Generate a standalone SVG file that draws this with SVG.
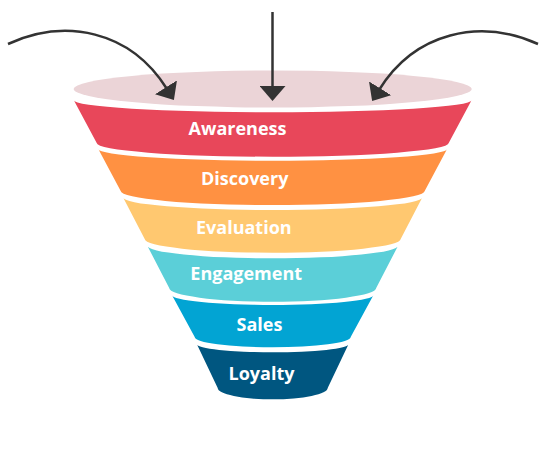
<svg xmlns="http://www.w3.org/2000/svg" width="545" height="458" viewBox="0 0 545 458">
  <style>
    .lbl { font-family: "Open Sans", "Liberation Sans", sans-serif; font-weight: 700; font-size: 18px; fill: #ffffff; text-anchor: middle; }
    .arrow { fill: none; stroke: #333333; stroke-width: 2.5; marker-end: url(#head); }
  </style>
  <defs>
    <marker id="head" viewBox="0 0 15 26" markerWidth="15" markerHeight="26" markerUnits="userSpaceOnUse" refX="2" refY="13" orient="auto">
      <path d="M0,0 L15,13 L0,26 Z" fill="#333333"/>
    </marker>
  </defs>
  <rect width="545" height="458" fill="#ffffff"/>

  <g id="funnel-top">
    <ellipse cx="272.7" cy="89" rx="199" ry="18.5" fill="#EBD4D7"/>
  </g>

  <g id="awareness">
    <path d="M73.7,100 A199,12.3 0 0 0 471.7,100 L448.7,143 A176,13.7 0 0 1 96.7,143 Z" fill="#E8475A"/>
    <text class="lbl" x="237.5" y="134.5">Awareness</text>
  </g>
  <g id="discovery">
    <path d="M98.3,149 A174.4,11.7 0 0 0 447.1,149 L424.7,191 A152,14 0 0 1 120.7,191 Z" fill="#FF9142"/>
    <text class="lbl" x="244.7" y="184.5">Discovery</text>
  </g>
  <g id="evaluation">
    <path d="M123,197.3 A149.7,12.7 0 0 0 422.4,197.3 L400.7,239 A128,13.7 0 0 1 144.7,239 Z" fill="#FFC870"/>
    <text class="lbl" x="243.8" y="233.5">Evaluation</text>
  </g>
  <g id="engagement">
    <path d="M147.2,245.5 A125.5,12.8 0 0 0 398.2,245.5 L376.2,288 A103.5,13.7 0 0 1 169.2,288 Z" fill="#5BCFD8"/>
    <text class="lbl" x="246.2" y="280">Engagement</text>
  </g>
  <g id="sales">
    <path d="M171.9,295 A100.8,10 0 0 0 373.5,295 L350.7,337 A78,10.3 0 0 1 194.7,337 Z" fill="#02A4D3"/>
    <text class="lbl" x="259.5" y="330.5">Sales</text>
  </g>
  <g id="loyalty">
    <path d="M196.9,344.3 A75.8,8 0 0 0 348.5,344.3 L327.7,388 A55,11.3 0 0 1 217.7,388 Z" fill="#005680"/>
    <text class="lbl" x="261.5" y="379.5">Loyalty</text>
  </g>

  <g id="connectors">
    <path class="arrow" d="M8,44 C65,18 130,30 167,89"/>
    <path class="arrow" d="M272.5,12 L272.5,88"/>
    <path class="arrow" d="M538,44 C480,18 415,32 379,90"/>
  </g>
</svg>
